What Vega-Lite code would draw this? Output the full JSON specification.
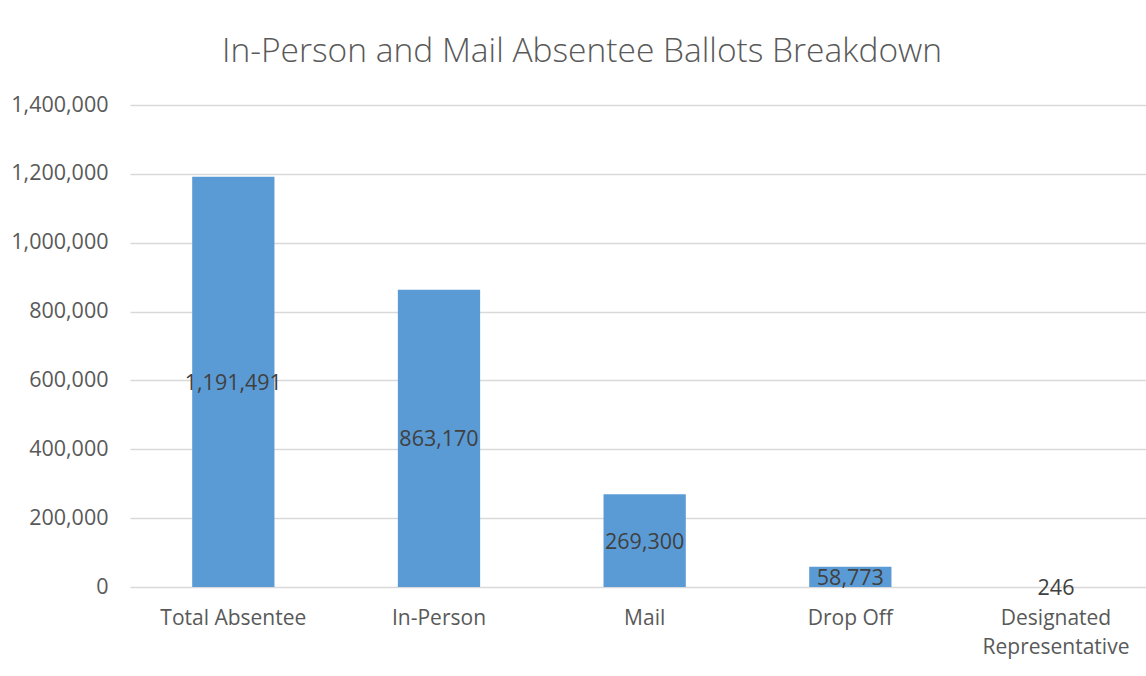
{
  "$schema": "https://vega.github.io/schema/vega-lite/v6.json",
  "width": 1016,
  "height": 482,
  "autosize": "none",
  "padding": {"left": 130, "top": 105, "right": 0, "bottom": 89},
  "background": "white",
  "title": {
    "text": "In-Person and Mail Absentee Ballots Breakdown",
    "font": "Open Sans",
    "fontSize": 33.5,
    "fontWeight": 300,
    "color": "#595959",
    "anchor": "middle",
    "dx": -56,
    "offset": 25
  },
  "data": {
    "values": [
      {"category": "Total Absentee", "value": 1191491},
      {"category": "In-Person", "value": 863170},
      {"category": "Mail", "value": 269300},
      {"category": "Drop Off", "value": 58773},
      {"category": "Designated Representative", "value": 246}
    ]
  },
  "encoding": {
    "x": {
      "field": "category",
      "type": "nominal",
      "sort": null,
      "scale": {"paddingInner": 0.6, "paddingOuter": 0.27, "align": 0.56},
      "axis": {
        "title": null,
        "labelAngle": 0,
        "ticks": false,
        "domain": false,
        "labelFont": "Open Sans",
        "labelFontSize": 21,
        "labelColor": "#595959",
        "labelPadding": 20,
        "labelLineHeight": 29,
        "labelExpr": "datum.label == 'Designated Representative' ? ['Designated', 'Representative'] : datum.label"
      }
    }
  },
  "layer": [
    {
      "mark": {"type": "bar", "color": "#5B9BD5"},
      "encoding": {
        "y": {
          "field": "value",
          "type": "quantitative",
          "scale": {"domain": [0, 1400000], "nice": false},
          "axis": {
            "title": null,
            "values": [0, 200000, 400000, 600000, 800000, 1000000, 1200000, 1400000],
            "format": ",d",
            "labelOverlap": false,
            "ticks": false,
            "domain": false,
            "grid": true,
            "gridColor": "#d9d9d9",
            "gridWidth": 1.3,
            "labelFont": "Open Sans",
            "labelFontSize": 21.5,
            "labelColor": "#595959",
            "labelPadding": 22
          }
        }
      }
    },
    {
      "mark": {"type": "text", "font": "Open Sans", "fontSize": 21.5, "color": "#404040", "baseline": "middle", "dy": 2},
      "encoding": {
        "y": {
          "field": "value",
          "type": "quantitative",
          "scale": {"domain": [0, 2800000], "nice": false},
          "axis": null
        },
        "text": {"field": "value", "type": "quantitative", "format": ",d"}
      }
    }
  ],
  "resolve": {"scale": {"y": "independent"}},
  "config": {"view": {"stroke": null}}
}
